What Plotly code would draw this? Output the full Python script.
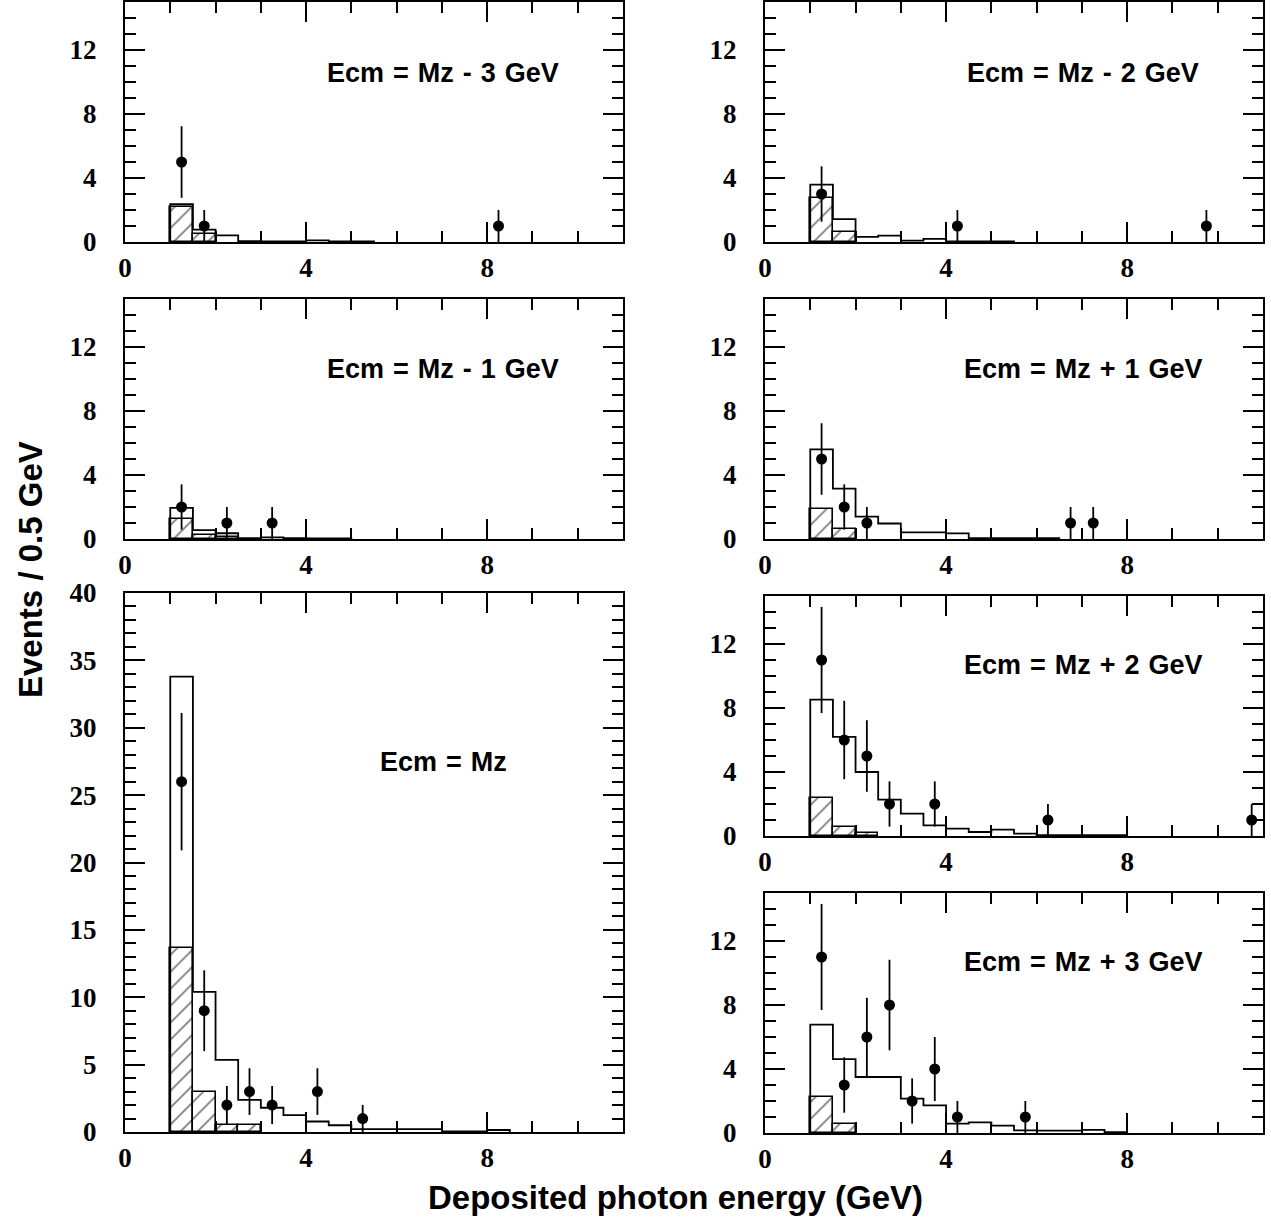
import numpy as np
import plotly.graph_objects as go

# ---------------- data ----------------
BIN_W = 0.5
BIN_START = 1.0

titles = ["Ecm = Mz - 3 GeV", "Ecm = Mz - 2 GeV", "Ecm = Mz - 1 GeV",
          "Ecm = Mz + 1 GeV", "Ecm = Mz", "Ecm = Mz + 2 GeV", "Ecm = Mz + 3 GeV"]

# total MC expectation per 0.5 GeV bin starting at 1.0 GeV
mc_m3 = [2.36, 0.77, 0.42, 0.05, 0.03, 0.03, 0.10, 0.03, 0.03]
mc_m2 = [3.58, 1.43, 0.32, 0.40, 0.08, 0.20, 0.03, 0.03, 0.03]
mc_m1 = [1.95, 0.56, 0.36, 0.05, 0.10, 0.05, 0.03, 0.03]
mc_p1 = [5.60, 3.15, 1.40, 0.97, 0.42, 0.42, 0.35, 0.05, 0.05, 0.05, 0.05]
mc_0 = [33.8, 10.4, 5.35, 2.38, 1.80, 1.25, 0.78, 0.50, 0.22, 0.22, 0.22, 0.22, 0.05, 0.05, 0.15]
mc_p2 = [8.52, 6.19, 4.00, 2.27, 1.40, 0.67, 0.46, 0.25, 0.40, 0.15, 0.05, 0.05, 0.05, 0.05]
mc_p3 = [6.77, 4.62, 3.50, 3.50, 2.15, 1.73, 0.58, 0.67, 0.46, 0.17, 0.15, 0.15, 0.20, 0.05]

# hatched component per 0.5 GeV bin starting at 1.0 GeV
hat_m3 = [2.20, 0.50]
hat_m2 = [2.75, 0.60]
hat_m1 = [1.25, 0.25, 0.15]
hat_p1 = [1.90, 0.65]
hat_0 = [13.66, 2.94, 0.50, 0.50]
hat_p2 = [2.40, 0.56, 0.20]
hat_p3 = [2.25, 0.58]

# data points: bin centre (GeV) and number of events
dx_m3 = [1.25, 1.75, 8.25]
dn_m3 = [5, 1, 1]
dx_m2 = [1.25, 4.25, 9.75]
dn_m2 = [3, 1, 1]
dx_m1 = [1.25, 2.25, 3.25]
dn_m1 = [2, 1, 1]
dx_p1 = [1.25, 1.75, 2.25, 6.75, 7.25]
dn_p1 = [5, 2, 1, 1, 1]
dx_0 = [1.25, 1.75, 2.25, 2.75, 3.25, 4.25, 5.25]
dn_0 = [26, 9, 2, 3, 2, 3, 1]
dx_p2 = [1.25, 1.75, 2.25, 2.75, 3.75, 6.25, 10.75]
dn_p2 = [11, 6, 5, 2, 2, 1, 1]
dx_p3 = [1.25, 1.75, 2.25, 2.75, 3.25, 3.75, 4.25, 5.75]
dn_p3 = [11, 3, 6, 8, 2, 4, 1, 1]

x_ticks = [0, 4, 8]
y_ticks_small = [0, 4, 8, 12]
y_ticks_big = [0, 5, 10, 15, 20, 25, 30, 35, 40]

panels = [
    (titles[0], mc_m3, hat_m3, dx_m3, dn_m3),
    (titles[1], mc_m2, hat_m2, dx_m2, dn_m2),
    (titles[2], mc_m1, hat_m1, dx_m1, dn_m1),
    (titles[3], mc_p1, hat_p1, dx_p1, dn_p1),
    (titles[4], mc_0, hat_0, dx_0, dn_0),
    (titles[5], mc_p2, hat_p2, dx_p2, dn_p2),
    (titles[6], mc_p3, hat_p3, dx_p3, dn_p3),
]

# ---------------- layout geometry (pixels) ----------------
W, H = 1271, 1221
cols = {"L": (125, 623), "R": (765, 1263)}
geom = [
    ("L", 2, 242, 15, False),
    ("R", 2, 242, 15, False),
    ("L", 299, 539, 15, False),
    ("R", 299, 539, 15, False),
    ("L", 593, 1132, 40, True),
    ("R", 596, 836, 15, False),
    ("R", 893, 1133, 15, False),
]
label_pos = [(443, 73), (1083, 73), (443, 369), (1083, 369), (443, 762), (1083, 665), (1083, 962)]

fig = go.Figure()
tick_font = dict(family="Liberation Serif", size=27, color="black", weight="bold")
SP = "\u2004"

for i, (title, mc, hat, dx, dn) in enumerate(panels):
    k = "" if i == 0 else str(i + 1)
    xa, ya = "x" + k, "y" + k
    col, top, bot, ymax, big = geom[i]
    x0, x1 = cols[col]

    # hatched component
    hx = [BIN_START + BIN_W * (j + 0.5) for j in range(len(hat))]
    fig.add_trace(go.Bar(
        x=hx, y=hat, width=BIN_W, xaxis=xa, yaxis=ya,
        marker=dict(color="white", line=dict(color="black", width=1.6),
                    pattern=dict(shape="/", fgcolor="black", bgcolor="white",
                                 size=12, solidity=0.15)),
        showlegend=False, hoverinfo="skip"))

    # total histogram as step line
    edges = [BIN_START + BIN_W * j for j in range(len(mc) + 1)]
    sx = edges + [edges[-1]]
    sy = [0] + list(mc) + [0]
    fig.add_trace(go.Scatter(
        x=sx, y=sy, mode="lines", line=dict(color="black", width=1.8, shape="vh"),
        xaxis=xa, yaxis=ya, showlegend=False, hoverinfo="skip"))

    # data points
    fig.add_trace(go.Scatter(
        x=dx, y=dn, mode="markers", xaxis=xa, yaxis=ya,
        marker=dict(color="black", size=11),
        error_y=dict(type="data", array=list(np.sqrt(dn)), color="black",
                     thickness=1.8, width=0),
        showlegend=False, cliponaxis=False))

    xdom = [x0 / W, x1 / W]
    ydom = [1 - bot / H, 1 - top / H]
    axis_common = dict(showline=True, linecolor="black", linewidth=2, mirror="allticks",
                       ticks="inside", tickcolor="black", tickwidth=2, ticklen=20,
                       showgrid=False, zeroline=False, tickfont=tick_font, automargin=False)
    fig.layout["xaxis" + k] = dict(
        domain=xdom, range=[0, 11], anchor=ya, tickvals=x_ticks,
        minor=dict(ticks="inside", dtick=1, ticklen=11, tickwidth=2, tickcolor="black", showgrid=False),
        ticklabelstandoff=1, **axis_common)
    fig.layout["yaxis" + k] = dict(
        domain=ydom, range=[0, ymax], anchor=xa,
        tickvals=y_ticks_big if big else y_ticks_small,
        minor=dict(ticks="inside", dtick=1, ticklen=11, tickwidth=2, tickcolor="black", showgrid=False),
        ticklabelstandoff=21, **axis_common)

    lx, ly = label_pos[i]
    fig.add_annotation(x=lx / W, y=1 - ly / H, xref="paper", yref="paper",
                       text=title.replace(" ", SP), showarrow=False, xanchor="center", yanchor="middle",
                       font=dict(family="Liberation Sans", size=27, color="black", weight="bold"))

fig.add_annotation(x=30 / W, y=1 - 570 / H, xref="paper", yref="paper",
                   text="Events / 0.5 GeV", textangle=-90, showarrow=False,
                   xanchor="center", yanchor="middle",
                   font=dict(family="Liberation Sans", size=33, color="black", weight="bold"))
fig.add_annotation(x=675 / W, y=1 - 1197 / H, xref="paper", yref="paper",
                   text="Deposited photon energy (GeV)", showarrow=False,
                   xanchor="center", yanchor="middle",
                   font=dict(family="Liberation Sans", size=33, color="black", weight="bold"))

fig.update_layout(width=W, height=H, margin=dict(l=0, r=0, t=0, b=0, pad=0, autoexpand=False),
                  paper_bgcolor="white", plot_bgcolor="white", barmode="overlay",
                  bargap=0)
fig.write_html("out.html")
